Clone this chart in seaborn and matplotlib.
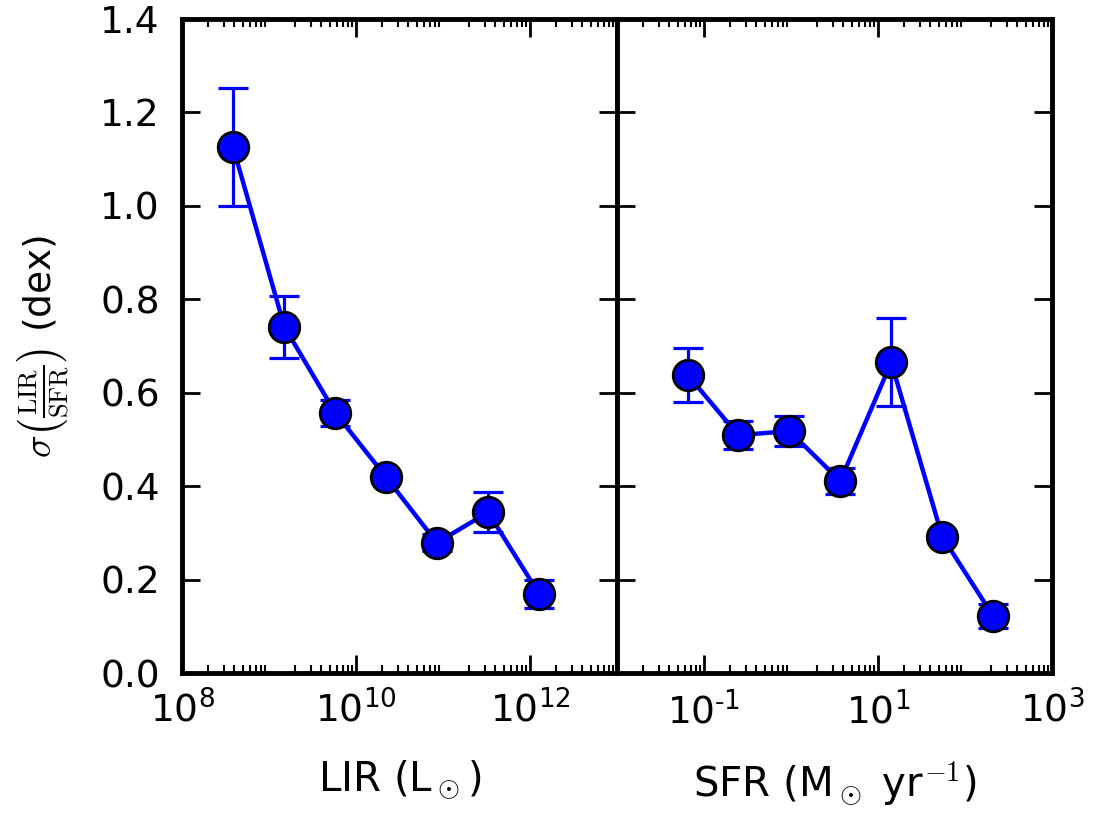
import numpy as np
import pandas as pd
import matplotlib
matplotlib.use("Agg")
import matplotlib.pyplot as plt
import matplotlib.ticker as mticker
import seaborn as sns

# ---- data ----
lir = [3.85e8, 1.50e9, 5.78e9, 2.20e10, 8.50e10, 3.29e11, 1.27e12]
sigma_lir = [1.126, 0.741, 0.557, 0.420, 0.279, 0.344, 0.170]
err_lir = [0.126, 0.066, 0.028, 0.012, 0.018, 0.043, 0.030]

sfr = [0.065, 0.248, 0.957, 3.69, 14.2, 54.8, 211.0]
sigma_sfr = [0.638, 0.509, 0.518, 0.411, 0.665, 0.292, 0.122]
err_sfr = [0.058, 0.030, 0.033, 0.028, 0.094, 0.012, 0.025]

lir_ticks = [1e8, 1e10, 1e12]
lir_ticklabels = [r"$\mathdefault{10^{8}}$", r"$\mathdefault{10^{10}}$", r"$\mathdefault{10^{12}}$"]
sfr_ticks = [1e-1, 1e1, 1e3]
sfr_ticklabels = [r"$\mathdefault{10^{\text{-}1}}$", r"$\mathdefault{10^{1}}$", r"$\mathdefault{10^{3}}$"]
y_ticks = [0.0, 0.2, 0.4, 0.6, 0.8, 1.0, 1.2, 1.4]

sns.set_style("white")
plt.rcParams.update({
    "font.family": ["DejaVu Sans"],
    "mathtext.fontset": "cm",
    "text.color": "black",
    "axes.labelcolor": "black",
    "axes.linewidth": 3.5,
    "axes.edgecolor": "black",
    "xtick.direction": "in",
    "ytick.direction": "in",
    "xtick.top": True,
    "ytick.right": True,
    "xtick.bottom": True,
    "ytick.left": True,
    "xtick.major.size": 13,
    "ytick.major.size": 13,
    "xtick.minor.size": 6,
    "ytick.minor.size": 6,
    "xtick.major.width": 2,
    "ytick.major.width": 2,
    "xtick.minor.width": 1.5,
    "ytick.minor.width": 1.5,
    "xtick.labelsize": 27,
    "ytick.labelsize": 27,
    "xtick.color": "black",
    "ytick.color": "black",
})

fig = plt.figure(figsize=(10.94, 8.13), dpi=100)
left, right, bottom, top = 0.1664, 0.9616, 0.172, 0.977
mid = 0.564
ax1 = fig.add_axes([left, bottom, mid - left, top - bottom])
ax2 = fig.add_axes([mid, bottom, right - mid, top - bottom], sharey=ax1)

blue = "#0000ff"

def panel(ax, x, y, e, xlim, ticks, ticklabels, xlabel):
    ax.set_xscale("log")
    ax.errorbar(x, y, yerr=e, fmt="none", ecolor=blue, elinewidth=2.3,
                capsize=10.5, capthick=2.3, zorder=2)
    df = pd.DataFrame({"x": x, "y": y})
    sns.lineplot(data=df, x="x", y="y", ax=ax, color=blue, lw=3.2,
                 marker="o", markersize=22, markerfacecolor=blue,
                 markeredgecolor="black", markeredgewidth=2, zorder=3)
    ax.set_xlim(*xlim)
    ax.xaxis.set_major_locator(mticker.FixedLocator(ticks))
    ax.xaxis.set_major_formatter(mticker.FixedFormatter(ticklabels))
    ax.xaxis.set_minor_locator(mticker.LogLocator(base=10, subs=np.arange(2, 10), numticks=50))
    ax.xaxis.set_minor_formatter(mticker.NullFormatter())
    ax.set_xlabel(xlabel, fontsize=29, labelpad=20)
    ax.tick_params(axis="x", which="major", pad=13)
    ax.tick_params(axis="y", which="major", pad=16)

panel(ax1, lir, sigma_lir, err_lir, (1e8, 1e13), lir_ticks, lir_ticklabels,
      r"LIR (L$_\odot$)")
panel(ax2, sfr, sigma_sfr, err_sfr, (1e-2, 1e3), sfr_ticks, sfr_ticklabels,
      r"SFR (M$_\odot$ yr$^{-1}$)")

ax1.set_ylim(0, 1.4)
ax1.yaxis.set_major_locator(mticker.FixedLocator(y_ticks))
ax1.yaxis.set_major_formatter(mticker.FixedFormatter([f"{v:.1f}" for v in y_ticks]))
ax1.set_ylabel(r"$\sigma\left(\frac{\rm LIR}{\rm SFR}\right)$ (dex)", fontsize=27)
ax1.yaxis.set_label_coords(-0.255, 0.5)
ax2.set_ylabel("")
ax2.tick_params(axis="y", labelleft=False)

fig.savefig("out.png", dpi=100)
